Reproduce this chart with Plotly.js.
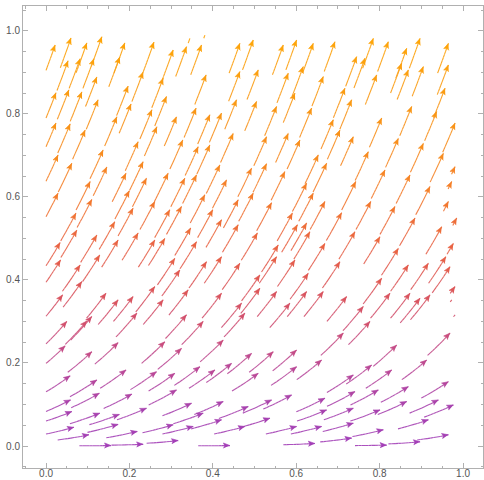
<!DOCTYPE html>
<html>
<head>
<meta charset="utf-8">
<script src="https://cdn.plot.ly/plotly-3.0.1.min.js"></script>
<style>html,body{margin:0;padding:0;background:#fff;}</style>
</head>
<body>
<div id="chart" style="width:484px;height:480px"></div>
<script>
// ---- data ----
// direction field: slope dy/dx of the streams as a function of y
const fieldY     = [0, 0.01, 0.025, 0.05, 0.1, 0.2, 0.3, 0.4, 0.5, 0.6, 0.8, 1.0, 1.1];
const fieldSlope = [0, 0.09, 0.20, 0.29, 0.48, 0.85, 1.17, 1.47, 1.75, 2.0, 2.5, 2.9, 3.0];
// colour of the streams against height (magnitude grows with y)
const colorY   = [0.0, 0.10, 0.20, 0.30, 0.40, 0.50, 0.60, 0.70, 0.85, 1.0];
const colorHex = ['#a23eb8', '#a843ae', '#bd4a95', '#d04f70', '#de5755', '#ea6540', '#f37a2c', '#f78a20', '#fa9a12', '#fea608'];
// axis ticks
const tickVals = [0, 0.2, 0.4, 0.6, 0.8, 1.0];
const tickText = ['0.0', '0.2', '0.4', '0.6', '0.8', '1.0'];
const minorVals = [-0.05,0.05,0.1,0.15,0.25,0.3,0.35,0.45,0.5,0.55,0.65,0.7,0.75,0.85,0.9,0.95,1.05];
// arrow tips (end point of each stream) [x, y]
const tipsTopLeft = [[0.022,0.966],[0.060,0.983],[0.053,0.928],[0.082,0.933],[0.115,0.933],[0.024,0.851],[0.055,0.858],[0.086,0.853],[0.122,0.889],[0.125,0.834],[0.024,0.778],[0.058,0.776],[0.094,0.761],[0.029,0.701],[0.137,0.713],[0.170,0.793],[0.177,0.937],[0.197,0.867],[0.204,0.824],[0.233,0.901],[0.254,0.810],[0.221,0.733],[0.266,0.769],[0.098,0.971],[0.134,0.986],[0.189,0.971],[0.259,0.973]];
const tipsTopMid = [[0.305,0.954],[0.337,0.962],[0.373,0.966],[0.465,0.970],[0.497,0.978],[0.569,0.966],[0.601,0.978],[0.641,0.970],[0.281,0.886],[0.384,0.894],[0.465,0.902],[0.509,0.906],[0.581,0.898],[0.617,0.914],[0.289,0.842],[0.313,0.793],[0.360,0.814],[0.393,0.798],[0.421,0.802],[0.457,0.834],[0.505,0.830],[0.553,0.818],[0.597,0.850],[0.637,0.814],[0.328,0.737],[0.365,0.721],[0.393,0.725],[0.449,0.753],[0.529,0.745],[0.581,0.753],[0.609,0.737],[0.653,0.701]];
const tipsTopRight = [[0.693,0.974],[0.745,0.938],[0.765,0.934],[0.853,0.922],[0.869,0.906],[0.897,0.982],[0.905,0.914],[0.965,0.918],[0.665,0.890],[0.717,0.862],[0.733,0.834],[0.793,0.894],[0.877,0.818],[0.937,0.806],[0.957,0.862],[0.689,0.786],[0.705,0.761],[0.737,0.745],[0.805,0.790],[0.845,0.741],[0.905,0.729],[0.981,0.778],[0.773,0.709],[0.953,0.705],[0.785,0.982],[0.821,0.974],[0.865,0.958],[0.965,0.970]];
const tipsMidLeft = [[0.062,0.681],[0.029,0.609],[0.106,0.637],[0.072,0.561],[0.110,0.594],[0.146,0.672],[0.192,0.657],[0.200,0.615],[0.233,0.685],[0.241,0.645],[0.034,0.490],[0.074,0.520],[0.122,0.508],[0.165,0.540],[0.209,0.573],[0.261,0.589],[0.035,0.448],[0.082,0.436],[0.129,0.460],[0.173,0.496],[0.221,0.513],[0.261,0.496],[0.040,0.364],[0.086,0.396],[0.144,0.368],[0.173,0.352],[0.209,0.360],[0.218,0.320],[0.261,0.384],[0.110,0.312]];
const tipsMidMid = [[0.293,0.657],[0.333,0.645],[0.361,0.653],[0.417,0.677],[0.493,0.669],[0.529,0.680],[0.573,0.661],[0.625,0.633],[0.641,0.609],[0.297,0.569],[0.325,0.577],[0.381,0.605],[0.400,0.569],[0.433,0.641],[0.461,0.593],[0.497,0.609],[0.541,0.586],[0.591,0.561],[0.625,0.537],[0.285,0.500],[0.347,0.525],[0.421,0.545],[0.461,0.533],[0.507,0.513],[0.557,0.484],[0.603,0.533],[0.633,0.516],[0.309,0.452],[0.321,0.424],[0.361,0.492],[0.385,0.444],[0.421,0.456],[0.465,0.440],[0.513,0.412],[0.553,0.456],[0.597,0.448],[0.629,0.416],[0.281,0.352],[0.341,0.376],[0.421,0.368],[0.469,0.344],[0.513,0.380],[0.553,0.372],[0.585,0.344],[0.625,0.372],[0.337,0.316],[0.477,0.320]];
const tipsMidRight = [[0.673,0.681],[0.743,0.637],[0.669,0.589],[0.709,0.562],[0.779,0.589],[0.813,0.665],[0.873,0.653],[0.921,0.625],[0.837,0.577],[0.885,0.549],[0.669,0.488],[0.705,0.444],[0.741,0.516],[0.801,0.504],[0.845,0.476],[0.869,0.436],[0.917,0.440],[0.949,0.528],[0.959,0.456],[0.969,0.432],[0.665,0.372],[0.721,0.360],[0.761,0.336],[0.805,0.404],[0.825,0.368],[0.873,0.368],[0.897,0.356],[0.921,0.364]];
const tipsLowLeft = [[0.050,0.300],[0.098,0.301],[0.046,0.241],[0.110,0.227],[0.173,0.249],[0.058,0.169],[0.122,0.159],[0.192,0.183],[0.265,0.179],[0.059,0.111],[0.128,0.127],[0.206,0.125],[0.062,0.083],[0.129,0.079],[0.176,0.076],[0.241,0.091],[0.067,0.045],[0.173,0.052],[0.219,0.035],[0.103,0.027],[0.156,0.001],[0.233,0.004],[0.317,0.013],[0.305,0.051]];
const tipsLowMid = [[0.285,0.251],[0.325,0.235],[0.377,0.300],[0.425,0.255],[0.493,0.223],[0.545,0.227],[0.601,0.231],[0.309,0.175],[0.369,0.191],[0.405,0.183],[0.445,0.199],[0.509,0.175],[0.601,0.191],[0.313,0.135],[0.349,0.103],[0.377,0.079],[0.425,0.107],[0.485,0.095],[0.541,0.111],[0.589,0.123],[0.421,0.063],[0.537,0.067],[0.601,0.047],[0.353,0.047],[0.477,0.047],[0.441,0.001],[0.645,0.006]];
const tipsLowRight = [[0.713,0.272],[0.777,0.300],[0.841,0.243],[0.969,0.272],[0.661,0.207],[0.737,0.171],[0.781,0.195],[0.829,0.183],[0.913,0.207],[0.965,0.155],[0.669,0.115],[0.741,0.131],[0.797,0.135],[0.869,0.143],[0.941,0.111],[0.673,0.087],[0.737,0.091],[0.801,0.087],[0.865,0.107],[0.917,0.063],[0.977,0.099],[0.661,0.047],[0.737,0.055],[0.809,0.039],[0.965,0.027],[0.733,0.019],[0.817,0.002],[0.897,0.010]];
// short pieces near the edges [x, y, length]
const fragments = [[0.345,0.982,0.012],[0.381,0.990,0.008],[0.981,0.673,0.02],[0.973,0.637,0.02],[0.965,0.589,0.025],[0.985,0.549,0.02],[0.977,0.488,0.03],[0.981,0.384,0.02],[0.973,0.352,0.006],[0.981,0.316,0.006]];
const streamLength = 0.075;

// ---- drawing ----
const X0 = -0.0552, X1 = 1.0479, Y0 = -0.053, Y1 = 1.060;
const plotW = 460, plotH = 462;
const sx = plotW / (X1 - X0), sy = plotH / (Y1 - Y0);

function interp(xs, ys, v) {
  if (v <= xs[0]) return ys[0];
  for (let i = 1; i < xs.length; i++) {
    if (v <= xs[i]) { const t = (v - xs[i-1]) / (xs[i] - xs[i-1]); return ys[i-1] + t * (ys[i] - ys[i-1]); }
  }
  return ys[ys.length - 1];
}
const colRGB = colorHex.map(h => [parseInt(h.slice(1,3),16), parseInt(h.slice(3,5),16), parseInt(h.slice(5,7),16)]);
function colorAt(y) {
  const c = [0,1,2].map(k => Math.round(interp(colorY, colRGB.map(r => r[k]), y)));
  return 'rgb(' + c.join(',') + ')';
}
const NB = 40;
function bin(y) { return Math.max(0, Math.min(NB - 1, Math.floor(y * NB))); }

function trace(tx, ty, L) {
  const pts = [[tx, ty]];
  let x = tx, y = ty, s = 0; const ds = 0.002;
  while (s < L) {
    const g = interp(fieldY, fieldSlope, y);
    const ux = sx, uy = sy * g, n = Math.hypot(ux, uy);
    let nx = x - ds * ux / n, ny = y - ds * (uy / n) * (sx / sy);
    if (nx < 0 || ny < 0) {
      let t = 1;
      if (nx < 0) t = Math.min(t, x / (x - nx));
      if (ny < 0) t = Math.min(t, y / (y - ny));
      pts.push([x + (nx - x) * t, y + (ny - y) * t]);
      break;
    }
    x = nx; y = ny; s += ds; pts.push([x, y]);
  }
  return pts.reverse();
}

const lineBins = Array.from({length: NB}, () => ({x: [], y: []}));
const headBins = Array.from({length: NB}, () => ({x: [], y: []}));

function addStream(tx, ty, L, withHead) {
  const pts = trace(tx, ty, L);
  const chunk = 4;
  for (let i = 0; i < pts.length - 1; i += chunk) {
    const seg = pts.slice(i, Math.min(pts.length, i + chunk + 1));
    const my = seg[Math.floor(seg.length / 2)][1];
    const b = lineBins[bin(my)];
    seg.forEach(p => { b.x.push(p[0]); b.y.push(p[1]); });
    b.x.push(null); b.y.push(null);
  }
  if (withHead) {
    const g = interp(fieldY, fieldSlope, ty);
    const n = Math.hypot(1, g);
    const dx = 1 / n, dy = g / n;
    const len = 6.5, w = 2.7;
    const bx = -dx * len, by = -dy * len;
    const px = -dy * w, py = dx * w;
    const poly = [[0, 0], [bx + px, by + py], [bx * 0.8, by * 0.8], [bx - px, by - py]];
    const h = headBins[bin(ty)];
    poly.forEach(p => { h.x.push(tx + p[0] / sx); h.y.push(ty + p[1] / sy); });
    h.x.push(null); h.y.push(null);
  }
}

[tipsTopLeft, tipsTopMid, tipsTopRight, tipsMidLeft, tipsMidMid, tipsMidRight, tipsLowLeft, tipsLowMid, tipsLowRight]
  .forEach(arr => arr.forEach(p => addStream(p[0], p[1], streamLength, true)));
fragments.forEach(p => addStream(p[0], p[1], p[2], p[2] > 0.015));

const data = [];
lineBins.forEach((b, i) => {
  if (!b.x.length) return;
  data.push({type: 'scatter', mode: 'lines', x: b.x, y: b.y, hoverinfo: 'skip',
    line: {color: colorAt((i + 0.5) / NB), width: 1.1}, opacity: 0.9, showlegend: false});
});
headBins.forEach((b, i) => {
  if (!b.x.length) return;
  const c = colorAt((i + 0.5) / NB);
  data.push({type: 'scatter', mode: 'lines', x: b.x, y: b.y, fill: 'toself', fillcolor: c,
    hoverinfo: 'skip', line: {color: c, width: 0.6}, showlegend: false});
});

const axisCommon = {
  showgrid: false, zeroline: false, showline: true, linecolor: '#b0b0b0', linewidth: 1,
  mirror: 'allticks', ticks: 'inside', ticklen: 5, tickwidth: 1, tickcolor: '#b0b0b0',
  tickvals: tickVals, ticktext: tickText,
  tickfont: {family: 'Liberation Sans, Arial, sans-serif', size: 10, color: '#555555'},
  minor: {ticks: 'inside', ticklen: 2.5, tickwidth: 1, tickcolor: '#b0b0b0', tickvals: minorVals, showgrid: false},
  fixedrange: true
};
const layout = {
  width: 484, height: 480,
  margin: {l: 23, r: 1, t: 6, b: 12, pad: 0},
  paper_bgcolor: '#ffffff', plot_bgcolor: '#ffffff',
  showlegend: false,
  xaxis: Object.assign({}, axisCommon, {range: [X0, X1], ticklabelstandoff: -4}),
  yaxis: Object.assign({}, axisCommon, {range: [Y0, Y1]})
};
Plotly.newPlot('chart', data, layout, {staticPlot: true, displayModeBar: false});
</script>
</body>
</html>
